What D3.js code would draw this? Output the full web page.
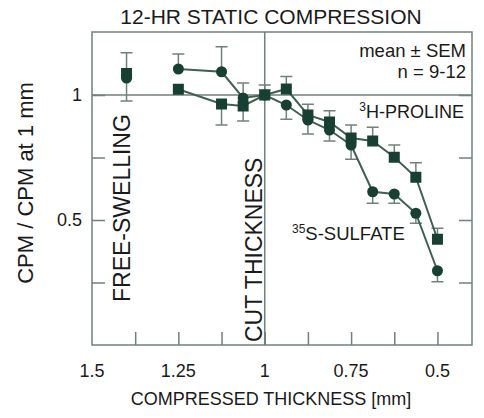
<!DOCTYPE html>
<head>
<style>
body { margin: 0; background: #fff; }
text {
  fill: #1a1a1a;
  font-family: "Liberation Sans", Arial, sans-serif;
}
</style>
<meta charset="utf-8">
<title></title>
</head>

<body>
<script type="text/javascript" src="https://cdn.jsdelivr.net/npm/d3@7/dist/d3.min.js"></script>
<script>

// compressed thickness [mm] for each measurement
var thickness = [1.4, 1.25, 1.125, 1.0625, 1.0, 0.9375, 0.875, 0.8125, 0.75, 0.6875, 0.625, 0.5625, 0.5];

// 3H-proline (squares)
var proline     = [1.086, 1.023, 0.964, 0.956, 1.0, 1.024, 0.92, 0.892, 0.828, 0.816, 0.751, 0.671, 0.423];
var prolineUp   = [0.083, 0, 0, 0, 0.04, 0.05, 0.043, 0.045, 0.052, 0.055, 0.049, 0.058, 0.044];
var prolineDown = [0, 0, 0.084, 0.06, 0, 0, 0, 0, 0, 0, 0, 0, 0];

// 35S-sulfate (circles)
var sulfate     = [1.068, 1.104, 1.093, 0.988, 1.0, 0.96, 0.90, 0.86, 0.80, 0.613, 0.604, 0.527, 0.297];
var sulfateUp   = [0, 0.06, 0.10, 0.06, 0.02, 0, 0, 0, 0, 0, 0, 0, 0];
var sulfateDown = [0.092, 0, 0, 0, 0, 0.057, 0.056, 0.044, 0.057, 0.046, 0.037, 0.04, 0.044];

var xTicks = [1.5, 1.25, 1, 0.75, 0.5];
var xMinor = [1.375, 1.125, 0.875, 0.625];
var yTicks = [0.5, 1];
var yMinor = [0.25, 0.75];

var width = 484, height = 418;
var pLeft = 92, pRight = 472, pTop = 32, pBottom = 345;

var svg = d3.select("body").append("svg")
    .attr("width", width)
    .attr("height", height);

var x = d3.scaleLinear().domain([1.5, 0.4]).range([pLeft, pRight]);
var y = d3.scaleLinear().domain([0, 1.252]).range([pBottom, pTop]);

var frameColor = "#6f8278",
    markColor = "#173f33",
    lineColor = "#3f6052";

// frame
svg.append("rect")
    .attr("x", pLeft).attr("y", pTop)
    .attr("width", pRight - pLeft).attr("height", pBottom - pTop)
    .style("fill", "none")
    .style("stroke", frameColor)
    .style("stroke-width", 1.5);

// reference lines at 1 mm and ratio 1
svg.append("line")
    .attr("x1", x(1)).attr("x2", x(1))
    .attr("y1", pTop).attr("y2", pBottom)
    .style("stroke", frameColor).style("stroke-width", 1.5);
svg.append("line")
    .attr("x1", pLeft).attr("x2", pRight)
    .attr("y1", y(1)).attr("y2", y(1))
    .style("stroke", frameColor).style("stroke-width", 1.5);

// bottom axis, ticks inward
var xAxis = svg.append("g")
    .attr("transform", "translate(0," + pBottom + ")")
    .call(d3.axisBottom(x).tickValues(xTicks.concat(xMinor).filter(function(d){ return d != 1.5; }))
        .tickSize(-13).tickFormat(""));
xAxis.select(".domain").remove();
xAxis.selectAll("line").style("stroke", frameColor).style("stroke-width", 1.5);

svg.append("g").selectAll("text")
    .data(xTicks)
    .enter().append("text")
    .attr("x", function(d){ return x(d); })
    .attr("y", 377)
    .attr("text-anchor", "middle")
    .style("font-size", "18px")
    .text(function(d){ return d; });

// left and right ticks, inward
var yAxisL = svg.append("g")
    .attr("transform", "translate(" + pLeft + ",0)")
    .call(d3.axisLeft(y).tickValues(yTicks.concat(yMinor)).tickSize(-13).tickFormat(""));
yAxisL.select(".domain").remove();
yAxisL.selectAll("line").style("stroke", frameColor).style("stroke-width", 1.5);

var yAxisR = svg.append("g")
    .attr("transform", "translate(" + pRight + ",0)")
    .call(d3.axisRight(y).tickValues(yTicks.concat(yMinor)).tickSize(-13).tickFormat(""));
yAxisR.select(".domain").remove();
yAxisR.selectAll("line").style("stroke", frameColor).style("stroke-width", 1.5);

svg.append("g").selectAll("text")
    .data(yTicks)
    .enter().append("text")
    .attr("x", 82)
    .attr("y", function(d){ return y(d) + 6; })
    .attr("text-anchor", "end")
    .style("font-size", "18px")
    .text(function(d){ return d; });

// titles
svg.append("text")
    .attr("x", 271).attr("y", 24)
    .attr("text-anchor", "middle")
    .style("font-size", "21px")
    .text("12-HR STATIC COMPRESSION");

svg.append("text")
    .attr("x", 271).attr("y", 405)
    .attr("text-anchor", "middle")
    .style("font-size", "18px")
    .text("COMPRESSED THICKNESS [mm]");

svg.append("text")
    .attr("transform", "translate(33,183) rotate(-90)")
    .attr("text-anchor", "middle")
    .style("font-size", "22px")
    .text("CPM / CPM at 1 mm");

svg.append("text")
    .attr("transform", "translate(130,302) rotate(-90)")
    .style("font-size", "23px")
    .text("FREE-SWELLING");

svg.append("text")
    .attr("transform", "translate(262,342) rotate(-90)")
    .style("font-size", "23px")
    .text("CUT THICKNESS");

svg.append("text")
    .attr("x", 466).attr("y", 57)
    .attr("text-anchor", "end")
    .style("font-size", "18.5px")
    .text("mean \u00b1 SEM");

svg.append("text")
    .attr("x", 466).attr("y", 78)
    .attr("text-anchor", "end")
    .style("font-size", "18.5px")
    .text("n = 9-12");

var lab1 = svg.append("text")
    .attr("x", 464).attr("y", 118)
    .attr("text-anchor", "end")
    .style("font-size", "18px");
lab1.append("tspan").attr("dy", "-7").style("font-size", "12px").text("3");
lab1.append("tspan").attr("dy", "7").text("H-PROLINE");

var lab2 = svg.append("text")
    .attr("x", 292).attr("y", 240)
    .style("font-size", "18.5px");
lab2.append("tspan").attr("dy", "-7").style("font-size", "12px").text("35");
lab2.append("tspan").attr("dy", "7").text("S-SULFATE");

// build rows
function rows(vals, up, down) {
  return thickness.map(function(t, i) {
    return {x: t, y: vals[i], up: up[i], down: down[i]};
  });
}
var pro = rows(proline, prolineUp, prolineDown);
var sul = rows(sulfate, sulfateUp, sulfateDown);

// error bars
function errorBars(data) {
  var g = svg.append("g")
      .style("stroke", frameColor)
      .style("stroke-width", 1.5);
  data.forEach(function(d) {
    if (d.up > 0) {
      g.append("line").attr("x1", x(d.x)).attr("x2", x(d.x))
          .attr("y1", y(d.y)).attr("y2", y(d.y + d.up));
      g.append("line").attr("x1", x(d.x) - 6).attr("x2", x(d.x) + 6)
          .attr("y1", y(d.y + d.up)).attr("y2", y(d.y + d.up));
    }
    if (d.down > 0) {
      g.append("line").attr("x1", x(d.x)).attr("x2", x(d.x))
          .attr("y1", y(d.y)).attr("y2", y(d.y - d.down));
      g.append("line").attr("x1", x(d.x) - 6).attr("x2", x(d.x) + 6)
          .attr("y1", y(d.y - d.down)).attr("y2", y(d.y - d.down));
    }
  });
}
errorBars(pro);
errorBars(sul);

// connecting lines (free-swelling point stands alone)
var line = d3.line()
    .x(function(d){ return x(d.x); })
    .y(function(d){ return y(d.y); });

[pro, sul].forEach(function(data) {
  svg.append("path")
      .datum(data.filter(function(d){ return d.x <= 1.25; }))
      .attr("d", line)
      .style("fill", "none")
      .style("stroke", lineColor)
      .style("stroke-width", 2);
});

// markers
svg.append("g").selectAll("circle")
    .data(sul)
    .enter().append("circle")
    .attr("cx", function(d){ return x(d.x); })
    .attr("cy", function(d){ return y(d.y); })
    .attr("r", 5.5)
    .style("fill", markColor);

svg.append("g").selectAll("rect")
    .data(pro)
    .enter().append("rect")
    .attr("x", function(d){ return x(d.x) - 5.5; })
    .attr("y", function(d){ return y(d.y) - 5.5; })
    .attr("width", 11)
    .attr("height", 11)
    .style("fill", markColor);

</script>
</body>
</html>
